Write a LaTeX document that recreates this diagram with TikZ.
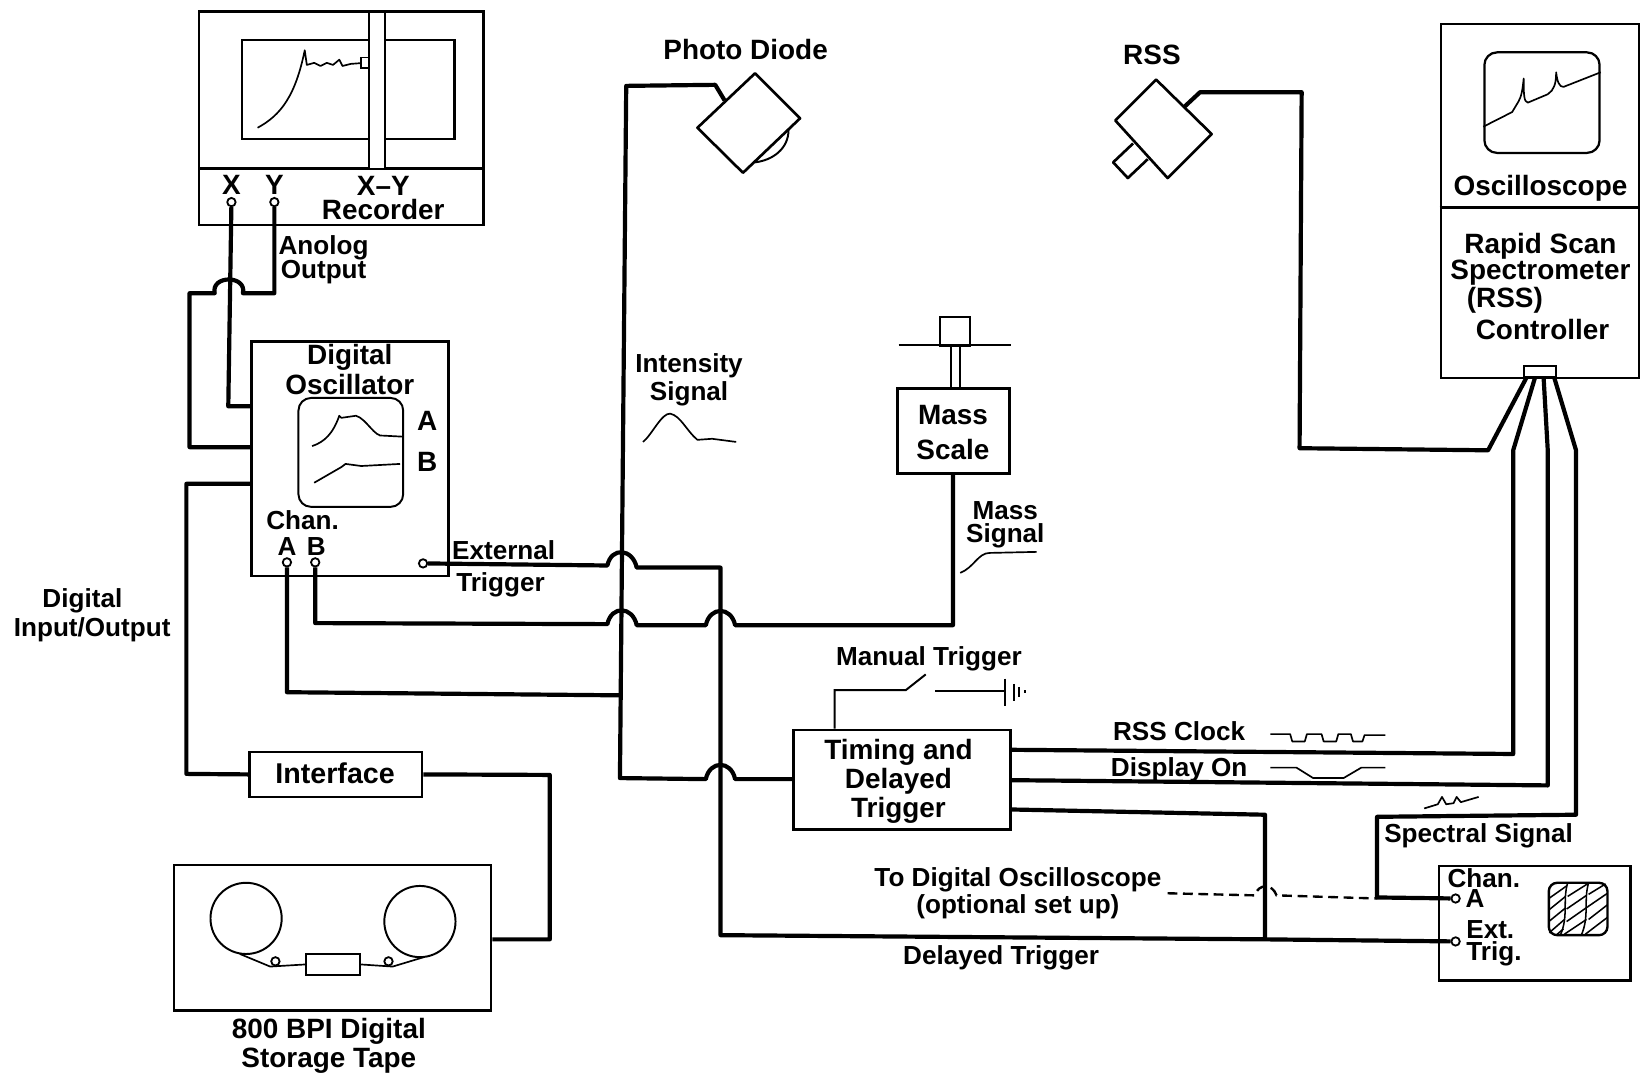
\documentclass[tikz,border=0pt]{standalone}
\usepackage{fontspec}
\usepackage{tikz}
\usepackage{xcolor}
\setmainfont{Liberation Sans}
\usetikzlibrary{arrows.meta, positioning, shapes.geometric}
\newcommand{\pix}{0.75pt}
\tikzset{
    box/.style 2 args={draw, rectangle, line width=1.9pt, minimum width=#1*\pix, minimum height=#2*\pix, inner sep=0pt},
    screen/.style 2 args={draw, rectangle, rounded corners=9pt, line width=1.4pt, minimum width=#1*\pix, minimum height=#2*\pix, inner sep=0pt},
    reel/.style={draw, ellipse, line width=1.4pt, minimum width=68*\pix, minimum height=68*\pix, inner sep=0pt},
    wire/.style={line width=3pt, line join=round},
    trace/.style={line width=1.2pt, line join=round},
    term/.style={draw, circle, fill=white, line width=1.3pt, minimum size=8*\pix, inner sep=0pt},
    lbl/.style={font=\fontsize{18.7}{#1}\selectfont\bfseries, align=center, inner sep=0pt},
    lbl/.default=20,
    biglbl/.style={font=\fontsize{20}{#1}\selectfont\bfseries, align=center, inner sep=0pt},
    biglbl/.default=21,
    bump/.style={out=78, in=102, looseness=1.7}
}
\begin{document}
\begin{tikzpicture}[x=\pix, y=-\pix]
    \useasboundingbox (0,0) rectangle (1568,1025.6);

    % X-Y recorder
    \node[box={272}{204}] (recorder) at (326,113) {};
    \node[box={272}{54}] (recpanel) at (326,188) {};
    \node[box={203}{95}, line width=1.5pt] (paper) at (332.5,85.5) {};
    \node[box={16}{150}, fill=white, line width=1.5pt] (penbar) at (360,86) {};
    \node[box={7}{10}, line width=1.2pt] (pen) at (348.5,60) {};
    \draw[trace] (246,122) .. controls (268,110) and (282,92) .. (291,48) -- (293,62) -- (300,60) -- (306,63) -- (312,60) -- (318,62) -- (324,57) -- (327,63) -- (335,61) -- (pen);
    \node[biglbl] (xlabel) at (221,177) {X};
    \node[biglbl] (ylabel) at (262,177) {Y};
    \node[biglbl=17] (reclabel) at (366,189) {X--Y\\Recorder};
    \node[term] (termx) at (221,193) {};
    \node[term] (termy) at (262,193) {};
    \node[lbl=17.5] (analog) at (309,248) {Anolog\\Output};

    % Digital oscillator
    \node[box={188}{224}] (osc) at (334,438) {};
    \node[biglbl=21] (osclabel) at (334,353) {Digital\\Oscillator};
    \node[screen={100}{104}] (oscscreen) at (335,432) {};
    \draw[trace] (298,426) .. controls (310,422) and (318,414) .. (324,397) -- (326,399) -- (340,397) .. controls (350,400) and (358,418) .. (366,416) -- (385,417);
    \draw[trace] (300,461) -- (326,446) -- (330,443) -- (345,445) -- (382,443);
    \node[biglbl] (tracea) at (408,402) {A};
    \node[biglbl] (traceb) at (408,441) {B};
    \node[lbl] (chanlabel) at (289,497) {Chan.};
    \node[lbl] (chana) at (274,522) {A};
    \node[lbl] (chanb) at (302,522) {B};
    \node[term] (terma) at (274,537) {};
    \node[term] (termb) at (301,537) {};
    \node[term] (termext) at (404,538) {};
    \node[lbl] (extlabel) at (481,525) {External};
    \node[lbl] (triglabel) at (478,558) {Trigger};

    % Tape unit
    \node[lbl=21] (iolabel) at (88,587.5) {\hspace*{-14pt}Digital\\Input/Output};
    \node[box={165}{43}] (interface) at (320.5,739.5) {};
    \node[font=\fontsize{20.5}{24}\selectfont\bfseries] (iflabel) at (320,738) {Interface};
    \node[box={303}{139}] (tape) at (317.5,895.5) {};
    \node[reel] (reelleft) at (235,877) {};
    \node[reel] (reelright) at (401,880) {};
    \node[box={52}{20}, line width=1.4pt] (head) at (318,921) {};
    \node[term] (rollleft) at (263,918) {};
    \node[term] (rollright) at (371,918) {};
    \draw[trace] (reelleft.south) ++(-6,-1) -- (258,923) -- (head.west);
    \draw[trace] (reelright.south) ++(4,-1) -- (375,923) -- (head.east);
    \node[biglbl=21] (tapelabel) at (314,999) {800 BPI Digital\\Storage Tape};

    % Detectors
    \node[biglbl] (pdlabel) at (712,47) {Photo Diode};
    \draw[line width=1.9pt, line join=round] (666,122) -- (721,70) -- (764,113) -- (709.5,165) -- cycle;
    \coordinate (pdport) at (692,96);
    \draw[line width=1.4pt] (721,155) .. controls (738,153) and (753,142) .. (753,124);
    \node[biglbl] (rsslabel) at (1100,52) {RSS};
    \draw[line width=1.9pt, line join=round] (1065,115) -- (1104,76) -- (1157,128) -- (1115,170) -- cycle;
    \draw[line width=1.9pt, line join=round] (1082,137) -- (1063,155) -- (1077,170) -- (1096,152);
    \coordinate (rssport) at (1131,102);

    % Mass scale
    \node[box={107}{81}] (mass) at (910.5,411.5) {};
    \node[biglbl=25] (masslabel) at (910,413) {Mass\\Scale};
    \node[box={28}{27}, line width=1.5pt] (weight) at (912,316.5) {};
    \draw[line width=1.4pt] (858,329) -- (965,329);
    \draw[line width=1.4pt] (908,330) -- (908,371);
    \draw[line width=1.4pt] (917,330) -- (917,371);
    \node[lbl=16.5] (masssig) at (960,501) {Mass\\Signal};
    \draw[trace] (917,547) .. controls (930,542) and (934,528) .. (945,528) -- (990,527);
    \node[lbl=20] (intsig) at (658,363) {Intensity\\Signal};
    \draw[trace] (614,422) .. controls (622,416) and (632,394) .. (640,395) .. controls (650,397) and (656,412) .. (666,420) -- (680,419) -- (703,422);

    % Oscilloscope and controller
    \node[box={189}{338}] (ctrl) at (1470.5,192) {};
    \draw[line width=1.9pt] (ctrl.west |- 0,198) -- (ctrl.east |- 0,198);
    \node[screen={110}{96}, line width=1.6pt] (ctrlscreen) at (1472.5,98) {};
    \draw[trace] (ctrlscreen.west |- 0,121) -- (1444,107) -- (1450,97) .. controls (1453,92) and (1454,85) .. (1455,75) .. controls (1455,88) and (1455,98) .. (1459,98) -- (1478,90) .. controls (1484,86) and (1486,80) .. (1486,69) .. controls (1487,78) and (1489,83) .. (1493,83) -- (ctrlscreen.east |- 0,69);
    \node[biglbl] (scopelabel) at (1471,179.5) {Oscilloscope};
    \node[biglbl=19] (ctrllabel) at (1471,247.5) {Rapid Scan\\Spectrometer};
    \node[biglbl] (rsstext) at (1437,287) {(RSS)};
    \node[biglbl] (ctrltext) at (1473,315) {Controller};
    \node[box={31}{11}, fill=white, line width=1.5pt] (port) at (1470.5,355) {};
    \coordinate (porta) at (1458,360);
    \coordinate (portb) at (1466,360);
    \coordinate (portc) at (1474,360);
    \coordinate (portd) at (1484,360);

    % Timing unit
    \node[box={207}{95}] (timing) at (861.5,744.5) {};
    \node[biglbl=21] (timinglabel) at (858,746) {Timing and\\Delayed\\Trigger};
    \node[lbl] (manual) at (887,629) {Manual Trigger};
    \draw[line width=1.4pt] (timing.north -| 797,0) -- (797,659) -- (865,659) -- (884,644);
    \draw[line width=1.4pt] (893,660) -- (960,660);
    \draw[line width=1.4pt] (960,648) -- (960,674);
    \draw[line width=1.2pt] (968,653) -- (968,669);
    \draw[line width=1.2pt] (973,656) -- (973,666);
    \draw[line width=1.2pt] (979,659) -- (979,662);
    \node[lbl] (clocklabel) at (1126,698) {RSS Clock};
    \draw[trace] (1213,701) -- (1232,701) -- (1234,708) -- (1246,708) -- (1248,701) -- (1262,701) -- (1264,708) -- (1276,708) -- (1278,701) -- (1290,701) -- (1292,708) -- (1301,708) -- (1303,702) -- (1323,702);
    \node[lbl] (displaylabel) at (1126,735) {Display On};
    \draw[trace] (1213,733) -- (1238,733) -- (1254,743) -- (1283,743) -- (1300,733) -- (1323,733);

    % Analyzer box
    \node[box={183}{109}] (analyzer) at (1465.5,881.5) {};
    \node[lbl=14, align=left, anchor=west] (chantext) at (1382,848) {Chan.\\\hspace*{13pt}A};
    \node[lbl=15.5, align=left, anchor=west] (exttext) at (1400,901) {Ext.\\Trig.};
    \node[term] (anaa) at (1390,858) {};
    \node[term] (anab) at (1390,899) {};
    \node[screen={56}{50}, line width=1.7pt, rounded corners=6pt] (anascreen) at (1507,868) {};
    \begin{scope}
        \clip[rounded corners=6pt] (anascreen.south west) rectangle (anascreen.north east);
        \draw[line width=1.1pt] (1497,843) .. controls (1492,860) and (1498,875) .. (1490,893);
        \draw[line width=1.1pt] (1517,843) .. controls (1512,860) and (1518,875) .. (1510,893);
        \draw[line width=1.1pt] (1479,858) -- (1496,846) (1479,869) -- (1495,856) (1479,880) -- (1495,867) (1479,891) -- (1494,878) (1486,893) -- (1493,887);
        \draw[line width=1.1pt] (1497,856) -- (1516,844) (1496,868) -- (1515,855) (1496,880) -- (1516,866) (1494,892) -- (1515,878);
        \draw[line width=1.1pt] (1517,854) -- (1535,843) (1516,866) -- (1535,853) (1517,878) -- (1535,864) (1514,892) -- (1535,876);
    \end{scope}
    \node[lbl] (speclabel) at (1412,798) {Spectral Signal};
    \draw[trace] (1360,772) -- (1373,768) -- (1377,761) -- (1381,768) -- (1388,767) -- (1391,761) -- (1395,766) -- (1412,761);
    \node[lbl=20] (optlabel) at (972,853) {To Digital Oscilloscope\\(optional set up)};
    \node[lbl] (delaylabel) at (956,915) {Delayed Trigger};

    % Wires, left side
    \draw[wire] (termx) -- (218,388) -- (osc.west |- 0,388);
    \draw[wire] (termy) -- (262,280) -- (232,280) to[bump] (205,280) -- (181,280) -- (181,427) -- (osc.west |- 0,427);
    \draw[wire] (osc.west |- 0,462) -- (178,462) -- (178,739) -- (interface.west);
    \draw[wire] (interface.east) -- (525,740) -- (525,897) -- (tape.east |- 0,897);

    % Wires, centre
    \draw[wire] (pdport) -- (683,81) -- (598,82) -- (592,743) -- (674,744) to[bump] (702,744) -- (timing.west |- 0,744);
    \draw[wire] (termext) -- (580,540) to[bump] (608,542) -- (688,542) -- (688,893) -- (1208,897) -- (anab);
    \draw[wire] (termb) -- (301,595) -- (580,596) to[bump] (608,597) -- (674,597) to[bump] (702,597) -- (910,597) -- (mass.south -| 910,0);
    \draw[wire] (terma) -- (274,661) -- (593,664);

    % Wires, right side
    \draw[wire] (rssport) -- (1146,88) -- (1243,88) -- (1241,428) -- (1421,430) -- (porta);
    \draw[wire] (portb) -- (1445,430) -- (1445,720) -- (timing.east |- 0,716);
    \draw[wire] (portc) -- (1478,430) -- (1478,750) -- (timing.east |- 0,745);
    \draw[wire] (portd) -- (1505,430) -- (1505,778) -- (1315,780) -- (1315,857) -- (anaa);
    \draw[wire] (timing.east |- 0,773) -- (1208,778) -- (1208,897);
    \draw[line width=1.7pt, dash pattern=on 7pt off 4pt] (1115,853) -- (1198,855) to[out=70, in=110, looseness=1.5] (1219,855) -- (1315,858);
\end{tikzpicture}
\end{document}
